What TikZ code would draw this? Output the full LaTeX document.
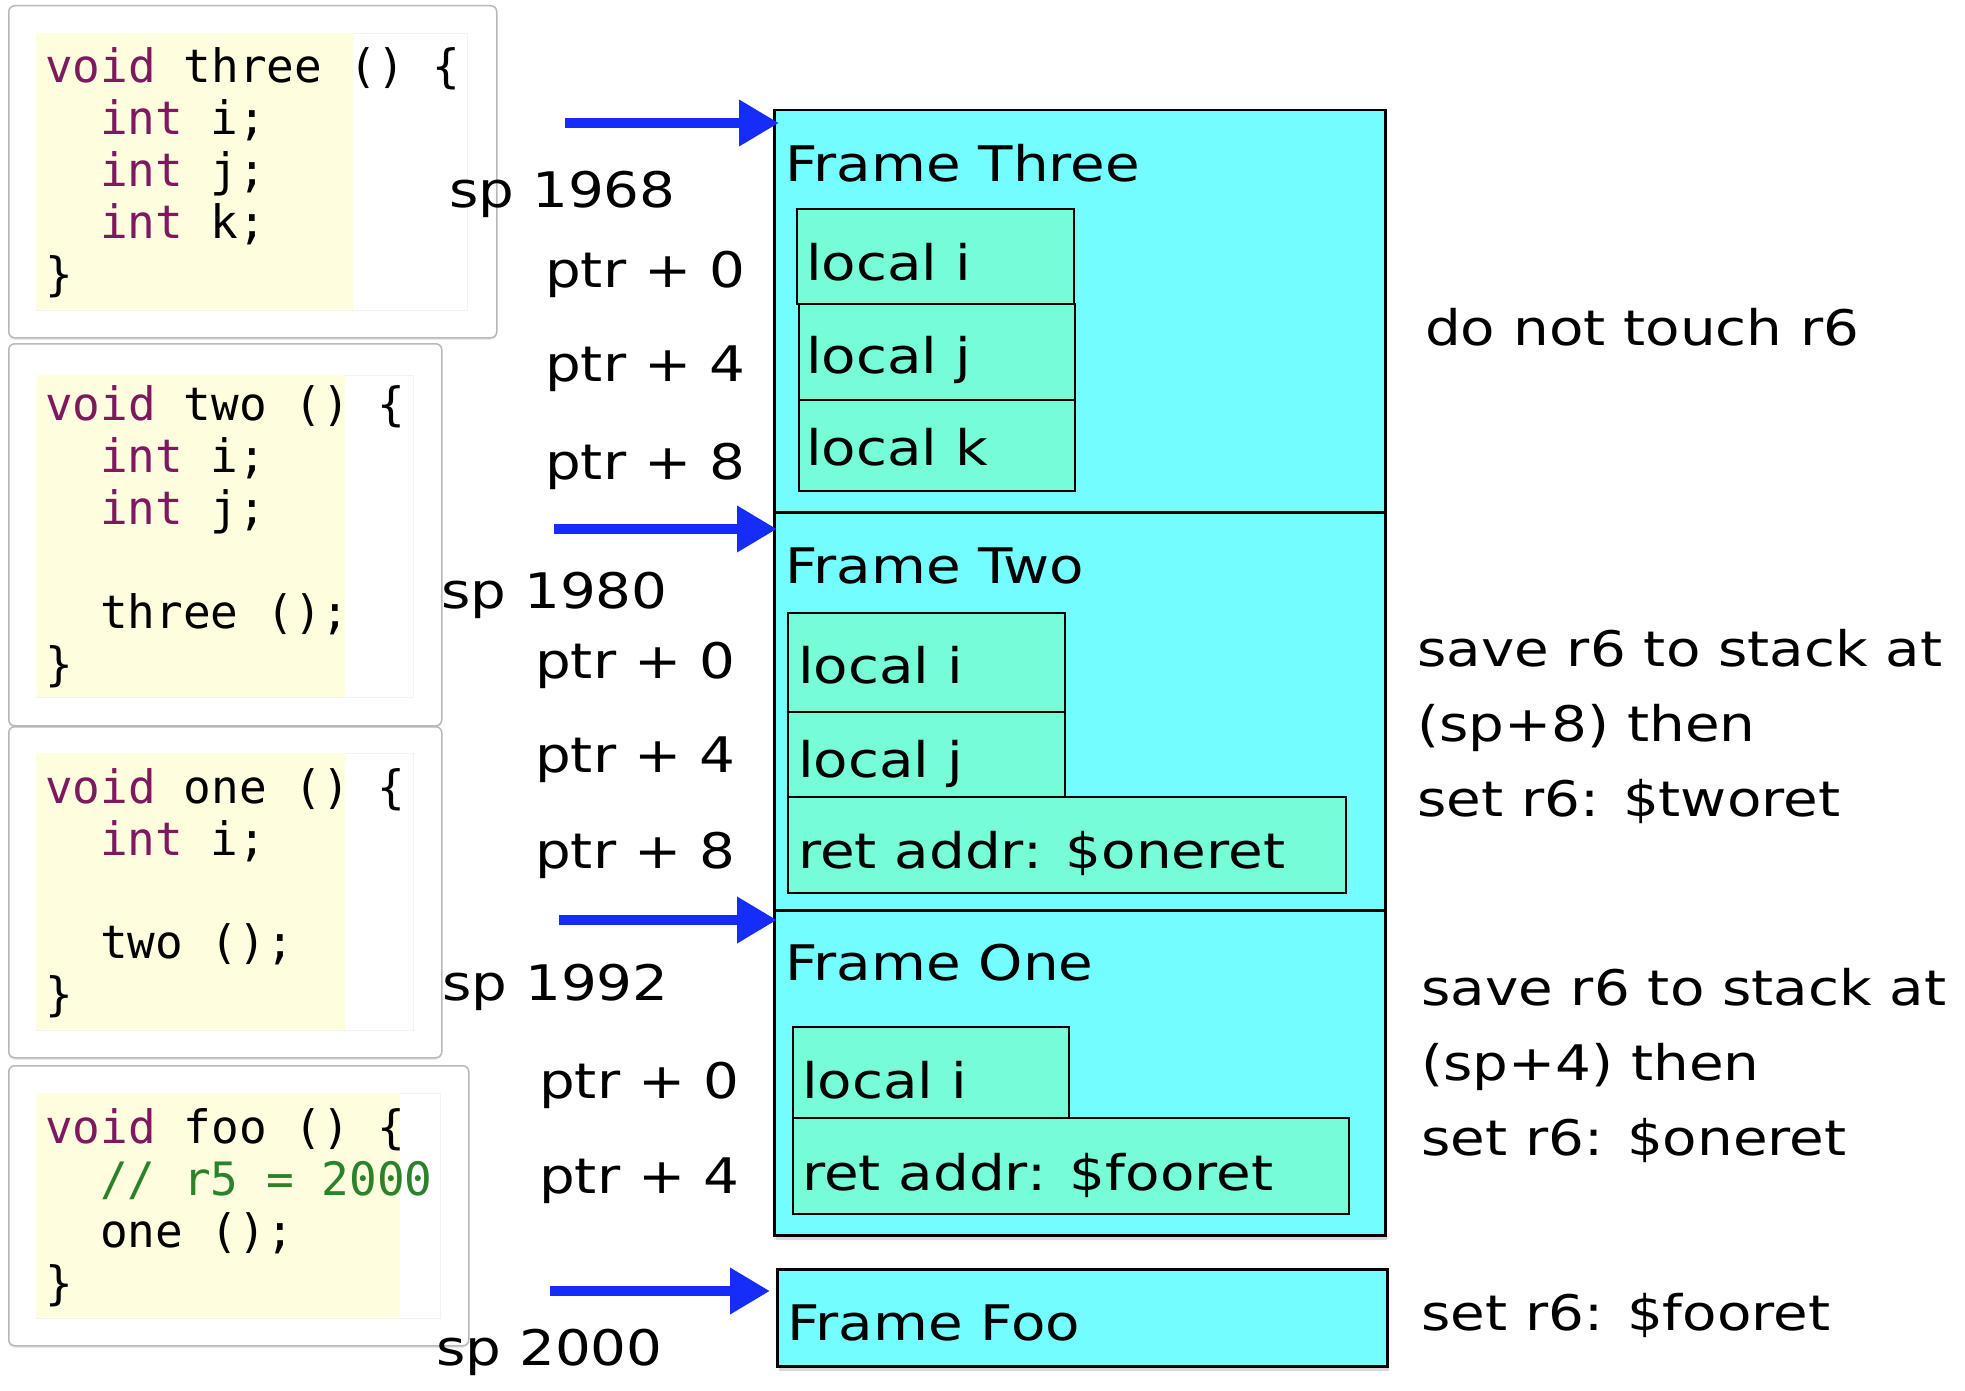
\documentclass[tikz,border=0pt]{standalone}
\usepackage{fontspec}
\usetikzlibrary{arrows.meta,shadows}
\newfontfamily\codefont{DejaVu Sans Mono}
\newfontfamily\handfont[FakeStretch=1.15]{DejaVu Sans}
\definecolor{kwc}{RGB}{127,25,95}
\definecolor{cmc}{RGB}{42,130,42}
\definecolor{ybg}{RGB}{254,253,222}
\definecolor{cyanbg}{RGB}{115,253,255}
\definecolor{aquabg}{RGB}{118,252,214}
\definecolor{arrowblue}{RGB}{22,45,250}
\newcommand{\kw}[1]{\textcolor{kwc}{#1}}
\begin{document}
\begin{tikzpicture}[x=1pt,y=-1pt,
  codebox/.style={draw=black!28, line width=1.5pt, rounded corners=6pt, fill=white,
    drop shadow={opacity=0.18, shadow xshift=0pt, shadow yshift=-2pt},
    anchor=north west, inner sep=0pt},
  whitebox/.style={draw=black!5, line width=0.8pt, fill=white, anchor=north west, inner sep=0pt},
  yellowbox/.style={fill=ybg, anchor=north west, inner sep=0pt},
  codeline/.style={font=\codefont\fontsize{46}{52}\selectfont, inner sep=0pt, anchor=base west},
  handtxt/.style={font=\handfont\fontsize{49}{58}\selectfont, inner sep=0pt, anchor=base west},
  stackframe/.style={draw=black, line width=2.5pt, fill=cyanbg, anchor=north west, inner sep=0pt,
    drop shadow={opacity=0.3, shadow xshift=2pt, shadow yshift=-5pt}},
  slot/.style={draw=black, line width=2pt, fill=aquabg, anchor=north west, inner sep=0pt},
  sparrow/.style={draw=arrowblue, line width=10pt, -{Triangle[length=40pt,width=44pt]}}
]
\useasboundingbox (0,0) rectangle (1965,1391);

% ---------------- code boxes ----------------
\node[codebox, minimum width=488pt, minimum height=332pt] (cb3) at (8,5) {};
\node[whitebox, minimum width=431pt, minimum height=277pt] (cw3) at (36,33) {};
\node[yellowbox, minimum width=317pt, minimum height=277pt] (cy3) at (36,33) {};
\node[codeline] (c3a) at (45,83) {\kw{void} three () \{};
\node[codeline] (c3b) at (100,135) {\kw{int} i;};
\node[codeline] (c3c) at (100,187) {\kw{int} j;};
\node[codeline] (c3d) at (100,238) {\kw{int} k;};
\node[codeline] (c3e) at (45,290) {\}};

\node[codebox, minimum width=433pt, minimum height=382pt] (cb2) at (8,343) {};
\node[whitebox, minimum width=377pt, minimum height=322pt] (cw2) at (36,375) {};
\node[yellowbox, minimum width=309pt, minimum height=322pt] (cy2) at (36,375) {};
\node[codeline] (c2a) at (45,420) {\kw{void} two () \{};
\node[codeline] (c2b) at (100,472) {\kw{int} i;};
\node[codeline] (c2c) at (100,524) {\kw{int} j;};
\node[codeline] (c2d) at (100,628) {three ();};
\node[codeline] (c2e) at (45,680) {\}};

\node[codebox, minimum width=433pt, minimum height=331pt] (cb1) at (8,726) {};
\node[whitebox, minimum width=377pt, minimum height=277pt] (cw1) at (36,753) {};
\node[yellowbox, minimum width=309pt, minimum height=277pt] (cy1) at (36,753) {};
\node[codeline] (c1a) at (45,803) {\kw{void} one () \{};
\node[codeline] (c1b) at (100,855) {\kw{int} i;};
\node[codeline] (c1c) at (100,958) {two ();};
\node[codeline] (c1d) at (45,1010) {\}};

\node[codebox, minimum width=460pt, minimum height=280pt] (cbf) at (8,1065) {};
\node[whitebox, minimum width=404pt, minimum height=225pt] (cwf) at (36,1093) {};
\node[yellowbox, minimum width=364pt, minimum height=225pt] (cyf) at (36,1093) {};
\node[codeline] (cfa) at (45,1143) {\kw{void} foo () \{};
\node[codeline, text=cmc] (cfb) at (100,1195) {// r5 = 2000};
\node[codeline] (cfc) at (100,1247) {one ();};
\node[codeline] (cfd) at (45,1299) {\}};

% ---------------- stack frames ----------------
\node[stackframe, minimum width=611pt, minimum height=402pt] (f3) at (773,109) {};
\node[stackframe, minimum width=611pt, minimum height=398pt] (f2) at (773,511) {};
\node[stackframe, minimum width=611pt, minimum height=325pt] (f1) at (773,909) {};
\node[stackframe, minimum width=610pt, minimum height=97pt] (ffoo) at (776,1268) {};

% frame three slots
\node[slot, minimum width=277pt, minimum height=95pt] (f3i) at (796,208) {};
\node[slot, minimum width=276pt, minimum height=96pt] (f3j) at (798,303) {};
\node[slot, minimum width=276pt, minimum height=91pt] (f3k) at (798,399) {};
% frame two slots
\node[slot, minimum width=277pt, minimum height=99pt] (f2i) at (787,612) {};
\node[slot, minimum width=277pt, minimum height=85pt] (f2j) at (787,711) {};
\node[slot, minimum width=558pt, minimum height=96pt] (f2r) at (787,796) {};
% frame one slots
\node[slot, minimum width=276pt, minimum height=91pt] (f1i) at (792,1026) {};
\node[slot, minimum width=556pt, minimum height=96pt] (f1r) at (792,1117) {};

% frame titles
\node[handtxt] (t3) at (785,182) {Frame Three};
\node[handtxt] (t2) at (785,583) {Frame Two};
\node[handtxt] (t1) at (785,980) {Frame One};
\node[handtxt] (tf) at (787,1340) {Frame Foo};

% slot labels
\node[handtxt] (l3i) at (806,280) {local i};
\node[handtxt] (l3j) at (806,373) {local j};
\node[handtxt] (l3k) at (806,465) {local k};
\node[handtxt] (l2i) at (798,683) {local i};
\node[handtxt] (l2j) at (798,777) {local j};
\node[handtxt] (l2r) at (798,868) {ret addr: \$oneret};
\node[handtxt] (l1i) at (802,1098) {local i};
\node[handtxt] (l1r) at (802,1190) {ret addr: \$fooret};

% left labels
\node[handtxt] (sp3) at (449,208) {sp 1968};
\node[handtxt] (p3a) at (545,287) {ptr + 0};
\node[handtxt] (p3b) at (545,381) {ptr + 4};
\node[handtxt] (p3c) at (545,479) {ptr + 8};
\node[handtxt] (sp2) at (441,608) {sp 1980};
\node[handtxt] (p2a) at (535,678) {ptr + 0};
\node[handtxt] (p2b) at (535,772) {ptr + 4};
\node[handtxt] (p2c) at (535,868) {ptr + 8};
\node[handtxt] (sp1) at (442,1000) {sp 1992};
\node[handtxt] (p1a) at (539,1098) {ptr + 0};
\node[handtxt] (p1b) at (539,1193) {ptr + 4};
\node[handtxt] (spf) at (436,1365) {sp 2000};

% right notes
\node[handtxt] (n3) at (1425,345) {do not touch r6};
\node[handtxt] (n2a) at (1417,666) {save r6 to stack at};
\node[handtxt] (n2b) at (1417,741) {(sp+8) then};
\node[handtxt] (n2c) at (1417,816) {set r6: \$tworet};
\node[handtxt] (n1a) at (1421,1005) {save r6 to stack at};
\node[handtxt] (n1b) at (1421,1080) {(sp+4) then};
\node[handtxt] (n1c) at (1421,1155) {set r6: \$oneret};
\node[handtxt] (nf) at (1421,1330) {set r6: \$fooret};

% arrows
\coordinate (a3s) at (565,123);
\coordinate (a2s) at (554,529);
\coordinate (a1s) at (559,920);
\coordinate (afs) at (550,1291);
\draw[sparrow, shorten >=-6pt] (a3s) -- (a3s -| f3.west);
\draw[sparrow, shorten >=-4pt] (a2s) -- (a2s -| f2.west);
\draw[sparrow, shorten >=-4pt] (a1s) -- (a1s -| f1.west);
\draw[sparrow, shorten >=6pt] (afs) -- (afs -| ffoo.west);
\end{tikzpicture}
\end{document}
